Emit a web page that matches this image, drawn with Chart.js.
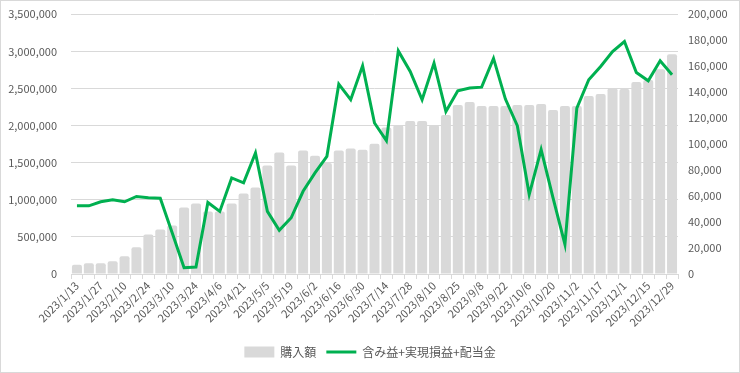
<!DOCTYPE html>
<html lang="ja">
<head>
<meta charset="utf-8">
<script src="https://cdn.jsdelivr.net/npm/chart.js@4"></script>
<style>
    html, body { margin: 0; padding: 0; background: #fff; }
    #wrap {
        width: 740px;
        height: 373px;
        box-sizing: border-box;
        border: 1px solid #d9d9d9;
    }
</style>
</head>
<body>
<div id="wrap"><canvas id="chart" width="738" height="371"></canvas></div>
<script>
// Weekly dates (every other one is shown on the axis)
const dates = [
    '2023/1/13', '2023/1/20', '2023/1/27', '2023/2/3', '2023/2/10', '2023/2/17', '2023/2/24',
    '2023/3/3', '2023/3/10', '2023/3/17', '2023/3/24', '2023/3/31', '2023/4/6', '2023/4/14',
    '2023/4/21', '2023/4/28', '2023/5/5', '2023/5/12', '2023/5/19', '2023/5/26', '2023/6/2',
    '2023/6/9', '2023/6/16', '2023/6/23', '2023/6/30', '2023/7/7', '2023/7/14', '2023/7/21',
    '2023/7/28', '2023/8/4', '2023/8/10', '2023/8/18', '2023/8/25', '2023/9/1', '2023/9/8',
    '2023/9/15', '2023/9/22', '2023/9/29', '2023/10/6', '2023/10/13', '2023/10/20', '2023/10/27',
    '2023/11/2', '2023/11/10', '2023/11/17', '2023/11/24', '2023/12/1', '2023/12/8', '2023/12/15',
    '2023/12/22', '2023/12/29'
];

// 購入額 (left axis)
const purchaseAmount = [
    126000, 144000, 144000, 171000, 238000, 359000, 534000, 601000, 655000, 897000,
    950000, 843000, 843000, 950000, 1085000, 1165000, 1461000, 1636000, 1461000, 1663000,
    1595000, 1497000, 1663000, 1690000, 1676000, 1757000, 1976000, 2008000, 2062000, 2062000,
    2008000, 2142000, 2277000, 2317000, 2263000, 2263000, 2263000, 2277000, 2277000, 2290000,
    2210000, 2263000, 2263000, 2398000, 2425000, 2505000, 2492000, 2586000, 2613000, 2761000,
    2962000
];

// 含み益+実現損益+配当金 (right axis)
const totalGain = [
    52500, 52500, 55600, 57100, 55600, 59700, 58700, 58400, 31800, 4900,
    5400, 55100, 48200, 74000, 70200, 93200, 48200, 33600, 43300, 63700,
    77900, 90600, 146200, 134200, 160300, 116300, 102700, 171800, 156000, 134200,
    162400, 125200, 141100, 143200, 143900, 166000, 134700, 114200, 61200, 95800,
    58600, 22800, 127800, 149600, 159800, 171300, 179000, 155200, 148800, 164200,
    153400
];

const leftMax = 3500000;
const leftStep = 500000;
const rightMax = 200000;
const rightStep = 20000;

const TEXT_COLOR = '#595959';
const GRID_COLOR = '#d9d9d9';
const BAR_COLOR = '#d9d9d9';
const LINE_COLOR = '#00b050';
const FONT_FAMILY = "'Noto Sans CJK JP', 'Noto Sans', sans-serif";

Chart.defaults.font.family = FONT_FAMILY;
Chart.defaults.color = TEXT_COLOR;

function formatNumber(v) {
    return Number(v).toLocaleString('en-US');
}

const ctx = document.getElementById('chart').getContext('2d');
const chart = new Chart(ctx, {
    type: 'bar',
    data: {
        labels: dates,
        datasets: [
            {
                type: 'line',
                label: '含み益+実現損益+配当金',
                data: totalGain,
                yAxisID: 'y1',
                borderColor: LINE_COLOR,
                backgroundColor: LINE_COLOR,
                borderWidth: 3,
                pointRadius: 0,
                tension: 0,
                order: 0
            },
            {
                type: 'bar',
                label: '購入額',
                data: purchaseAmount,
                yAxisID: 'y',
                backgroundColor: BAR_COLOR,
                borderWidth: 0,
                borderRadius: 2,
                barPercentage: 0.84,
                categoryPercentage: 1.0,
                order: 1
            }
        ]
    },
    options: {
        responsive: false,
        animation: false,
        layout: {
            padding: { top: 13.3, left: 0, right: 0, bottom: 4 }
        },
        scales: {
            x: {
                offset: true,
                grid: {
                    display: true,
                    drawOnChartArea: false,
                    drawTicks: true,
                    tickLength: 5,
                    color: GRID_COLOR,
                    offset: true
                },
                border: { color: GRID_COLOR },
                ticks: {
                    autoSkip: false,
                    maxRotation: 45,
                    minRotation: 45,
                    padding: 0,
                    color: TEXT_COLOR,
                    font: { size: 11 },
                    callback: function(value, index) {
                        return index % 2 === 0 ? dates[index] : '';
                    }
                },
                afterFit: function(scale) {
                    scale.height = 62;
                }
            },
            y: {
                position: 'left',
                min: 0,
                max: leftMax,
                grid: {
                    color: GRID_COLOR,
                    drawTicks: true,
                    tickLength: 12,
                    tickColor: 'transparent'
                },
                border: { display: false },
                ticks: {
                    stepSize: leftStep,
                    padding: 2,
                    color: TEXT_COLOR,
                    font: { size: 11 },
                    callback: formatNumber
                },
                afterFit: function(scale) {
                    scale.width = 70;
                }
            },
            y1: {
                position: 'right',
                min: 0,
                max: rightMax,
                grid: {
                    display: true,
                    drawOnChartArea: false,
                    drawTicks: true,
                    tickLength: 8,
                    tickColor: 'transparent'
                },
                border: { display: false },
                ticks: {
                    stepSize: rightStep,
                    padding: 2,
                    color: TEXT_COLOR,
                    font: { size: 11 },
                    callback: formatNumber
                },
                afterFit: function(scale) {
                    scale.width = 61;
                }
            }
        },
        plugins: {
            tooltip: { enabled: false },
            legend: {
                position: 'bottom',
                labels: {
                    usePointStyle: true,
                    pointStyleWidth: 30,
                    boxHeight: 11,
                    padding: 10,
                    color: TEXT_COLOR,
                    font: { size: 12 },
                    // Bar entry first, then the line entry
                    generateLabels: function(chart) {
                        return [
                            {
                                text: '購入額',
                                fillStyle: BAR_COLOR,
                                strokeStyle: BAR_COLOR,
                                lineWidth: 0,
                                pointStyle: 'rect',
                                datasetIndex: 1,
                                fontColor: TEXT_COLOR
                            },
                            {
                                text: '含み益+実現損益+配当金',
                                fillStyle: LINE_COLOR,
                                strokeStyle: LINE_COLOR,
                                lineWidth: 3,
                                pointStyle: 'line',
                                datasetIndex: 0,
                                fontColor: TEXT_COLOR
                            }
                        ];
                    }
                }
            }
        }
    }
});
</script>
</body>
</html>
